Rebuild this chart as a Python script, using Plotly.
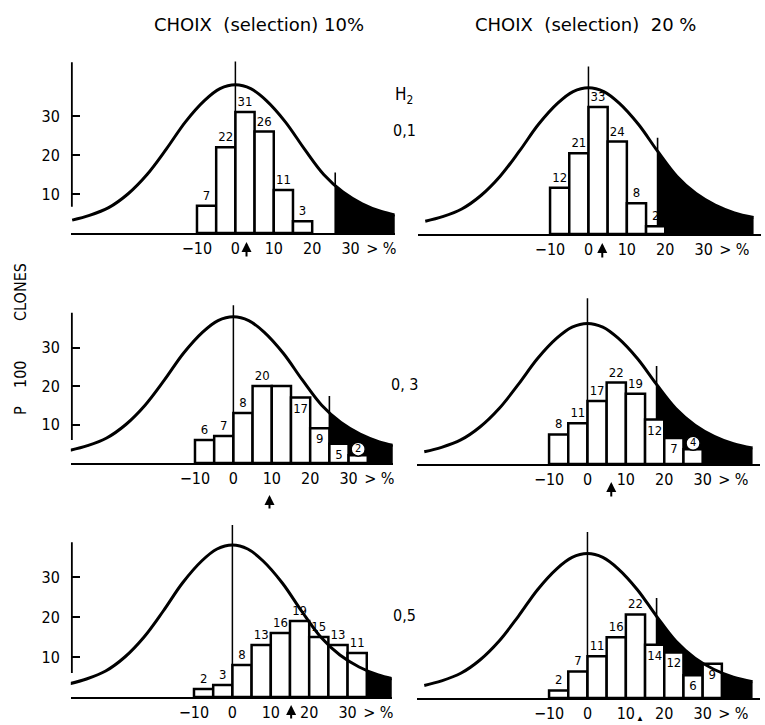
import numpy as np
import plotly.graph_objects as go

# theoretical distribution of the clones (same drawing in every panel)
CURVE_X = [-42.5, -38, -33, -28, -23, -18, -13, -8, -4, 0, 4, 8, 13, 18, 23, 28, 33, 38, 43]
CURVE_Y = [3.3, 4.5, 6.5, 10, 15, 21.5, 28.5, 34, 37, 38, 37, 34, 28.5, 21.5, 15, 10.5, 7.5, 5.5, 4.3]

BIN_FIRST = -10
BIN_WIDTH = 5

# clones per 5 % class (P 100); columns = selection 10 % / 20 %, rows = H2 0,1 / 0,3 / 0,5
COUNTS_10_H01 = [7, 22, 31, 26, 11, 3]
COUNTS_20_H01 = [12, 21, 33, 24, 8, 2]
COUNTS_10_H03 = [6, 7, 13, 20, 20, 17, 9, 5, 2]
COUNTS_20_H03 = [8, 11, 17, 22, 19, 12, 7, 4]
COUNTS_10_H05 = [2, 3, 8, 13, 16, 19, 15, 13, 11]
COUNTS_20_H05 = [2, 7, 11, 16, 22, 14, 12, 6, 9]

# printed labels ("(n)" = circled in the original)
LABELS_10_H01 = ["7", "22", "31", "26", "11", "3"]
LABELS_20_H01 = ["12", "21", "33", "24", "8", "2"]
LABELS_10_H03 = ["6", "7", "8", "20", "", "17", "9", "5", "(2)"]
LABELS_20_H03 = ["8", "11", "17", "22", "19", "12", "7", "(4)"]
LABELS_10_H05 = ["2", "3", "8", "13", "16", "19", "15", "13", "11"]
LABELS_20_H05 = ["2", "7", "11", "16", "22", "14", "12", "6", "9"]

# truncation point of the selected tail and mean of the selected clones (arrow)
SEL_CUT = [26, 18, 25, 18, 26, 18]
SEL_MEAN = [2.9, 3.6, 9.4, 6.2, 15.3, 13.8]

X_TICKS = [-10, 0, 10, 20, 30, 38]
X_TICKTEXT = ["−10", "0", "10", "20", "30", "> %"]
Y_TICKS = [10, 20, 30]
H2_VALUES = ["0,1", "0, 3", "0,5"]
TITLES = ["CHOIX  (selection) 10%", "CHOIX  (selection)  20 %"]

COUNTS = [COUNTS_10_H01, COUNTS_20_H01, COUNTS_10_H03, COUNTS_20_H03, COUNTS_10_H05, COUNTS_20_H05]
LABELS = [LABELS_10_H01, LABELS_20_H01, LABELS_10_H03, LABELS_20_H03, LABELS_10_H05, LABELS_20_H05]

# ---- drawing geometry (pixels of the 765x725 page) ----
W, H = 765, 725
SX = 3.85
Y_RANGE = [0, 46]
FONT = "DejaVu Sans Condensed, Liberation Sans Narrow, DejaVu Sans, sans-serif"

PANELS = [
    dict(zero=236, base=233, sy=3.9, left=True, yline=(6.7, 43.8), thr=15.5, ztop=44, arrow=(9, 16)),
    dict(zero=590, base=234, sy=3.85, left=False, thr=25, ztop=43.5, arrow=(9, 16)),
    dict(zero=234, base=463, sy=3.85, left=True, yline=(6, 39), thr=17.4, ztop=41, arrow=(32, 15)),
    dict(zero=589, base=464, sy=3.7, left=False, thr=26.5, ztop=44.8, arrow=(18, 16)),
    dict(zero=233, base=697, sy=4.0, left=True, yline=(6, 38.7), thr=None, ztop=43, arrow=(8, 15)),
    dict(zero=589, base=698, sy=3.8, left=False, thr=26.3, ztop=43.7, arrow=None),
]
INSIDE = {2: {5, 6, 7}, 3: {5, 6}, 5: {5, 6, 7, 8}}


def px(x):
    return x / W


def py(y):
    return 1 - y / H


def page_text(text, x, y, size=15, angle=0, family=FONT):
    return dict(x=px(x), y=py(y), xref="paper", yref="paper", text=text, showarrow=False,
                xanchor="center", yanchor="middle", textangle=angle,
                font=dict(size=size, family=family, color="black"))


fig = go.Figure()
shapes = []
annotations = []
axes = {}

for i, g in enumerate(PANELS):
    n = i + 1
    xa = "x" if n == 1 else f"x{n}"
    ya = "y" if n == 1 else f"y{n}"
    if g["left"]:
        lo, hi = (71 - g["zero"]) / SX, 41.5
    else:
        lo, hi = -44.5, 45.0

    axes["xaxis" if n == 1 else f"xaxis{n}"] = dict(
        domain=[px(g["zero"] + lo * SX), px(g["zero"] + hi * SX)],
        range=[lo, hi], anchor=ya,
        tickvals=X_TICKS, ticktext=X_TICKTEXT, ticks="",
        tickfont=dict(size=16, family=FONT, color="black"),
        showline=True, linecolor="black", linewidth=2,
        showgrid=False, zeroline=False, fixedrange=True,
    )
    ytop = g["base"] - Y_RANGE[1] * g["sy"]
    axes["yaxis" if n == 1 else f"yaxis{n}"] = dict(
        domain=[py(g["base"]), py(ytop)],
        range=Y_RANGE, anchor=xa,
        tickvals=Y_TICKS if g["left"] else [],
        ticks="inside" if g["left"] else "", ticklen=9, tickwidth=2, tickcolor="black",
        showticklabels=g["left"], ticklabelstandoff=10,
        tickfont=dict(size=16, family=FONT, color="black"),
        showline=False, showgrid=False, zeroline=False, fixedrange=True,
    )

    counts = COUNTS[i]
    labels = LABELS[i]
    centers = [BIN_FIRST + BIN_WIDTH * (k + 0.5) for k in range(len(counts))]
    inside = INSIDE.get(i, set())
    positions = ["inside" if k in inside else "outside" for k in range(len(counts))]
    circled = [k for k, t in enumerate(labels) if t.startswith("(")]
    bar_text = ["" if k in circled else t for k, t in enumerate(labels)]

    # selected tail, black under the curve
    cut = SEL_CUT[i]
    ycut = float(np.interp(cut, CURVE_X, CURVE_Y))
    pts = [(cut, 0), (cut, ycut)] + [(x, y) for x, y in zip(CURVE_X, CURVE_Y) if x > cut] + [(CURVE_X[-1], 0)]
    path = "M " + " L ".join(f"{x},{y}" for x, y in pts) + " Z"
    shapes.append(dict(type="path", path=path, xref=xa, yref=ya, fillcolor="black",
                       line=dict(width=0), layer="below"))
    if g["thr"] is not None:
        shapes.append(dict(type="line", x0=cut, x1=cut, y0=0, y1=g["thr"], xref=xa, yref=ya,
                           line=dict(color="black", width=1.6), layer="below"))

    fig.add_trace(go.Bar(
        x=centers, y=counts, width=BIN_WIDTH, xaxis=xa, yaxis=ya,
        marker=dict(color="white", line=dict(color="black", width=2.5)),
        text=bar_text, textposition=positions, insidetextanchor="end",
        constraintext="none", textangle=0, cliponaxis=False,
        textfont=dict(size=13, family=FONT, color="black"),
        showlegend=False, hoverinfo="skip",
    ))
    if circled:
        fig.add_trace(go.Scatter(
            x=[centers[k] for k in circled], y=[counts[k] + 1.6 for k in circled],
            text=[labels[k].strip("()") for k in circled],
            xaxis=xa, yaxis=ya, mode="markers+text", textposition="middle center",
            marker=dict(symbol="circle", size=14, color="white", line=dict(color="black", width=1.5)),
            textfont=dict(size=11, family=FONT, color="black"), cliponaxis=False,
            showlegend=False, hoverinfo="skip",
        ))
    fig.add_trace(go.Scatter(
        x=CURVE_X, y=CURVE_Y, xaxis=xa, yaxis=ya, mode="lines",
        line=dict(color="black", width=3, shape="spline", smoothing=1),
        showlegend=False, hoverinfo="skip",
    ))
    fig.add_trace(go.Scatter(
        x=[0, 0], y=[0, g["ztop"]], xaxis=xa, yaxis=ya, mode="lines",
        line=dict(color="black", width=1.5), showlegend=False, hoverinfo="skip",
    ))
    if g["left"]:
        fig.add_trace(go.Scatter(
            x=[lo + 0.25, lo + 0.25], y=list(g["yline"]), xaxis=xa, yaxis=ya, mode="lines",
            line=dict(color="black", width=2), showlegend=False, hoverinfo="skip",
        ))

    # mean of the selected clones
    if g["arrow"] is not None:
        below, length = g["arrow"]
        annotations.append(dict(x=SEL_MEAN[i], y=0, xref=xa, yref=ya, text="", showarrow=True,
                                ax=0, ay=length, yshift=-below, arrowhead=2, arrowsize=1,
                                arrowwidth=2, arrowcolor="black"))
    else:
        annotations.append(dict(x=SEL_MEAN[i], y=0, xref=xa, yref=ya, text="▲", showarrow=False,
                                yanchor="middle", yshift=-19, font=dict(size=8, color="black")))

# titles and side texts
for t, cx in zip(TITLES, [260, 587]):
    annotations.append(page_text(t, cx, 25, size=18, family="DejaVu Sans, sans-serif"))
annotations.append(page_text("H<sub>2</sub>", 405, 95, size=17))
for t, cy in zip(H2_VALUES, [130, 385, 615]):
    annotations.append(page_text(t, 406, cy, size=16))
annotations.append(page_text("CLONES", 20, 292, size=16, angle=-90))
annotations.append(page_text("P    100", 20, 388, size=16, angle=-90))

fig.update_layout(
    width=W, height=H, autosize=False,
    margin=dict(l=0, r=0, t=0, b=0),
    paper_bgcolor="white", plot_bgcolor="rgba(0,0,0,0)",
    shapes=shapes, annotations=annotations,
    showlegend=False,
    **axes,
)

fig.write_html("out.html", config={"displayModeBar": False},
               post_script="document.body.style.margin = '0px';")
